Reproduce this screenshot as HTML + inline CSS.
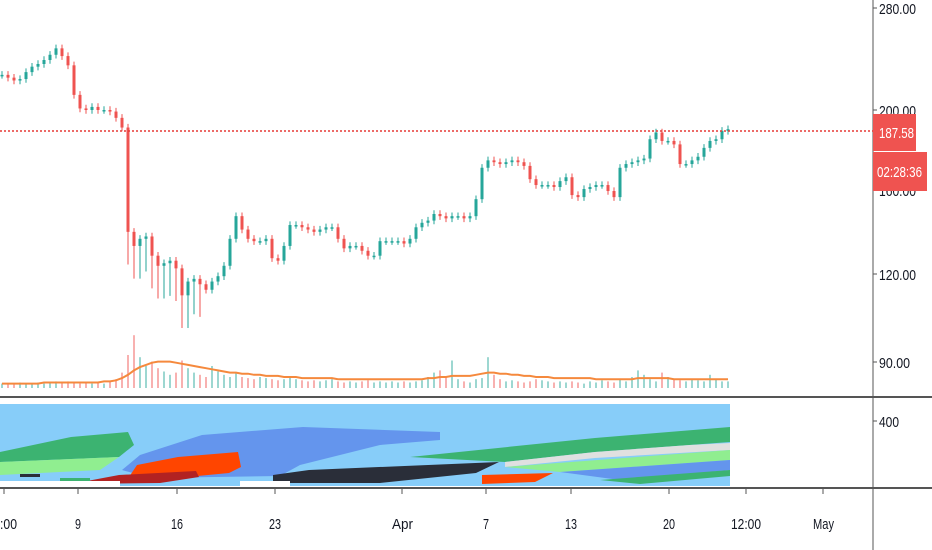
<!DOCTYPE html>
<html><head><meta charset="utf-8"><style>
body{margin:0;background:#fff;width:932px;height:550px;overflow:hidden;font-family:"Liberation Sans",sans-serif}
svg{display:block}
text{font-family:"Liberation Sans",sans-serif;font-size:15px;fill:#131722}
</style></head><body>
<svg id="c" width="932" height="550">
<g id="heat">
<rect x="0" y="404" width="730" height="82" fill="#87cdf9"/>
<polygon fill="#3cb371" points="0,452 71,437 128,432 134,445 119,457 0,462"/>
<polygon fill="#90ee90" points="0,462 119,457 100,470 0,475"/>
<polygon fill="#6495ed" points="122,470 140,455 202,435 303,427 440,432 440,440 380,445 300,465 280,476 150,478"/>
<polygon fill="#ff4500" points="137,465 178,457 238,452 241,467 229,473 125,483"/>
<polygon fill="#b22222" points="119,475 196,471 199,477 160,483 71,484"/>
<polygon fill="#2a2e39" points="273,475 309,470 499,462 476,473 380,483 273,483"/>
<polygon fill="#ff4500" points="482,475 553,473 535,482 482,484"/>
<polygon fill="#3cb371" points="410,457 595,438 730,427 730,442 595,452 505,462"/>
<polygon fill="#e0e0e0" points="505,462 595,452 690,445 730,443 730,450 595,458 505,467"/>
<polygon fill="#90ee90" points="505,467 730,450 730,460 560,472"/>
<polygon fill="#6495ed" points="560,472 730,460 730,470 620,480"/>
<polygon fill="#3cb371" points="600,480 730,470 730,476 640,484"/>
<rect x="0" y="481" width="120" height="5" fill="#fff"/>
<rect x="240" y="481" width="50" height="5" fill="#fff"/>
<rect x="20" y="474" width="20" height="3" fill="#2a2e39"/>
<rect x="60" y="478" width="30" height="3" fill="#3cb371"/>
</g>
<line x1="0" y1="397" x2="932" y2="397" stroke="#555" stroke-width="2"/>
<line x1="0" y1="488" x2="932" y2="488" stroke="#555" stroke-width="2"/>
<line x1="873" y1="0" x2="873" y2="550" stroke="#555" stroke-width="1"/>
<g id="vol"></g>
<g id="candles"></g>
<line x1="0" y1="131" x2="873" y2="131" stroke="#e53935" stroke-width="1.5" stroke-dasharray="2,2"/>
<g>
<line x1="873" y1="8" x2="877" y2="8" stroke="#555"/><text x="879" y="14" textLength="37" lengthAdjust="spacingAndGlyphs">280.00</text>
<line x1="873" y1="110" x2="877" y2="110" stroke="#555"/><text x="879" y="116" textLength="37" lengthAdjust="spacingAndGlyphs">200.00</text>
<line x1="873" y1="274" x2="877" y2="274" stroke="#555"/><text x="879" y="280" textLength="37" lengthAdjust="spacingAndGlyphs">120.00</text>
<line x1="873" y1="362" x2="877" y2="362" stroke="#555"/><text x="879" y="368" textLength="31" lengthAdjust="spacingAndGlyphs">90.00</text>
<text x="879" y="196" textLength="37" lengthAdjust="spacingAndGlyphs">160.00</text>
<line x1="873" y1="421" x2="877" y2="421" stroke="#555"/><text x="879" y="427" textLength="20" lengthAdjust="spacingAndGlyphs">400</text>
<rect x="873" y="114" width="43" height="37" fill="#ef5350"/>
<text x="879" y="138" textLength="35" lengthAdjust="spacingAndGlyphs" style="fill:#fff">187.58</text>
<rect x="873" y="152" width="54" height="39" fill="#ef5350"/>
<text x="877" y="177" textLength="45" lengthAdjust="spacingAndGlyphs" style="fill:#fff">02:28:36</text>
</g>
<g>
<g stroke="#555"><line x1="4" y1="488" x2="4" y2="494"/><line x1="78" y1="488" x2="78" y2="494"/><line x1="177" y1="488" x2="177" y2="494"/><line x1="275" y1="488" x2="275" y2="494"/><line x1="402" y1="488" x2="402" y2="494"/><line x1="486" y1="488" x2="486" y2="494"/><line x1="571" y1="488" x2="571" y2="494"/><line x1="669" y1="488" x2="669" y2="494"/><line x1="746" y1="488" x2="746" y2="494"/><line x1="823" y1="488" x2="823" y2="494"/></g>
<text x="0" y="529" textLength="17" lengthAdjust="spacingAndGlyphs">:00</text>
<text x="75" y="529" textLength="6" lengthAdjust="spacingAndGlyphs">9</text>
<text x="171" y="529" textLength="12" lengthAdjust="spacingAndGlyphs">16</text>
<text x="269" y="529" textLength="12" lengthAdjust="spacingAndGlyphs">23</text>
<text x="392" y="529" textLength="21" lengthAdjust="spacingAndGlyphs">Apr</text>
<text x="483" y="529" textLength="6" lengthAdjust="spacingAndGlyphs">7</text>
<text x="565" y="529" textLength="12" lengthAdjust="spacingAndGlyphs">13</text>
<text x="663" y="529" textLength="12" lengthAdjust="spacingAndGlyphs">20</text>
<text x="731" y="529" textLength="30" lengthAdjust="spacingAndGlyphs">12:00</text>
<text x="813" y="529" textLength="21" lengthAdjust="spacingAndGlyphs">May</text>
</g>
</svg>
<script>
const closes=[224,222,220,221,226,230,232,235,239,244,238,231,210,201,200,202,200,200,199,195,189,135,129,132,133,125,121,122,123,120,110,115,116,114,112,115,117,121,132,142,136,132,131,131,132,124,123,129,138,138,137,136,135,136,137,137,132,128,129,129,127,125,125,131,131,131,131,130,132,137,139,140,143,142,141,142,142,141,142,150,166,170,169,168,169,170,169,167,160,157,157,157,156,159,161,152,151,155,156,157,157,154,151,166,168,169,170,171,182,186,181,181,179,168,168,170,172,177,181,182,187,188];
const volumes=[4,4,4,5,4,4,5,4,5,6,5,6,5,4,5,4,5,4,6,8,14,30,48,28,20,24,18,15,12,14,25,18,14,12,10,20,15,12,10,14,10,9,8,10,9,8,7,8,10,8,7,6,7,6,7,8,6,5,6,5,6,7,5,6,5,6,5,6,5,6,7,10,14,16,10,25,8,6,5,8,9,28,12,8,6,7,6,5,6,8,7,6,5,6,5,6,5,4,6,5,7,6,5,8,6,10,16,12,8,6,14,10,8,7,6,8,7,6,12,8,6,6];
const maVol=[4,4,4,4,4,4,4,5,5,5,5,5,5,5,5,5,5,6,6,7,9,12,16,19,21,23,24,24,24,23,22,21,20,19,18,17,16,15,14,14,13,13,12,12,11,11,11,10,10,10,9,9,9,9,9,9,8,8,8,8,8,8,8,8,8,8,8,8,8,8,8,9,9,10,10,11,11,11,11,12,13,14,14,13,13,12,12,11,11,10,10,10,9,9,9,9,9,9,9,8,8,8,8,8,8,8,9,9,9,9,9,9,8,8,8,8,8,8,8,8,8,8];
const ns="http://www.w3.org/2000/svg";
function yP(p){return 110-310*Math.log(p/200);}
const n=closes.length, x0=2, step=(728-2)/(n-1);
function xI(i){return x0+i*step;}
function yV(v){return 388-v*1.1;}
const cg=document.getElementById('candles'), vg=document.getElementById('vol');
for(let i=0;i<n;i++){
  const o=i?closes[i-1]:closes[0], c=closes[i];
  const up=c>=o, col=up?'#26a69a':'#ef5350';
  const hi=Math.max(o,c)*1.012, lo=Math.min(o,c)*(i>20&&i<34?0.9:0.988);
  const x=xI(i);
  const w=document.createElementNS(ns,'line');
  
  
  w.setAttribute('x1',x);w.setAttribute('x2',x);w.setAttribute('y1',yP(hi));w.setAttribute('y2',yP(lo));
  w.setAttribute('stroke',col);w.setAttribute('stroke-width','1');cg.appendChild(w);
  const b=document.createElementNS(ns,'rect');
  
  
  const t=Math.min(yP(o),yP(c));
  b.setAttribute('x',x-1.5);b.setAttribute('width',3);b.setAttribute('y',t);b.setAttribute('height',Math.max(1.5,Math.abs(yP(o)-yP(c))));
  b.setAttribute('fill',col);cg.appendChild(b);
  const v=document.createElementNS(ns,'rect');
  
  
  v.setAttribute('x',x-1);v.setAttribute('width',2);v.setAttribute('y',yV(volumes[i]));v.setAttribute('height',388-yV(volumes[i]));
  v.setAttribute('fill',up?'rgba(38,166,154,0.45)':'rgba(239,83,80,0.45)');vg.appendChild(v);
}
const pl=document.createElementNS(ns,'polyline');


pl.setAttribute('points',maVol.map((v,i)=>xI(i)+','+yV(v)).join(' '));
pl.setAttribute('fill','none');pl.setAttribute('stroke','#f5893d');pl.setAttribute('stroke-width','2');
vg.appendChild(pl);
</script>
</body></html>
